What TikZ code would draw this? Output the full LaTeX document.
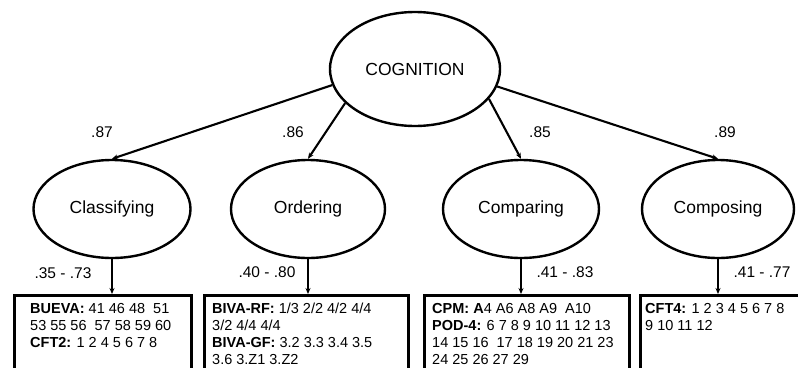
\documentclass[tikz,border=0pt]{standalone}
\usepackage{fontspec}
\setmainfont{Liberation Sans}
\usetikzlibrary{arrows.meta,shapes.geometric}
\begin{document}
\begin{tikzpicture}[x=1pt,y=-1pt,
  latent/.style={ellipse,draw,line width=2.4pt,inner sep=0pt,font=\fontsize{17.5}{20}\selectfont},
  load/.style={font=\fontsize{15.5}{18}\selectfont,inner sep=0pt},
  regpath/.style={line width=2.1pt,-{Stealth[length=6pt,width=5pt]}},
  indbox/.style={draw,line width=2.6pt,anchor=north west,inner sep=0pt,minimum height=90pt},
  items/.style={anchor=north west,align=left,inner sep=0pt,font=\fontsize{14.5}{17}\selectfont}]
\useasboundingbox (0,0) rectangle (798,367);
\clip (0,0) rectangle (798,367);

% second-order factor
\node[latent,minimum width=170pt,minimum height=114pt] (cog) at (415,69) {COGNITION};

% first-order factors
\node[latent,minimum width=157pt,minimum height=98pt] (cls) at (112,209) {Classifying};
\node[latent,minimum width=154pt,minimum height=98pt] (ord) at (308,209) {Ordering};
\node[latent,minimum width=156pt,minimum height=98pt] (cmp) at (521,209) {Comparing};
\node[latent,minimum width=152pt,minimum height=98pt] (cps) at (718,209) {Composing};

% loadings on the second-order factor
\draw[regpath] (cog.191) -- (cls.north);
\draw[regpath] (cog.206) -- (ord.north);
\draw[regpath] (cog.338) -- (cmp.north);
\draw[regpath] (cog.348) -- (cps.north);
\node[load] (l1) at (102,132) {.87};
\node[load] (l2) at (293,132) {.86};
\node[load] (l3) at (540,132) {.85};
\node[load] (l4) at (725,132) {.89};

% indicator boxes
\node[indbox,minimum width=177pt] (b1) at (13,294) {};
\node[indbox,minimum width=204pt] (b2) at (203,294) {};
\node[indbox,minimum width=205pt] (b3) at (423,294) {};
\node[indbox,minimum width=170pt] (b4) at (639,294) {};

\node[items] (t1) at (30,303) {\textbf{BUEVA:} 41 46 48\ \ 51\\53 55 56\ \ 57 58 59 60\\\textbf{CFT2:} 1 2 4 5 6 7 8};
\node[items] (t2) at (212,303) {\textbf{BIVA-RF:} 1/3 2/2 4/2 4/4\\3/2 4/4 4/4\\\textbf{BIVA-GF:} 3.2 3.3 3.4 3.5\\3.6 3.Z1 3.Z2};
\node[items] (t3) at (432,303) {\textbf{CPM: A}4 A6 A8 A9\ \ A10\\\textbf{POD-4:} 6 7 8 9 10 11 12 13\\14 15 16\ \ 17 18 19 20 21 23\\24 25 26 27 29};
\node[items] (t4) at (645,303) {\textbf{CFT4:} 1 2 3 4 5 6 7 8\\9 10 11 12};

% loadings of the indicators
\draw[regpath] (cls.south) -- (cls.south |- b1.north);
\draw[regpath] (ord.south) -- (ord.south |- b2.north);
\draw[regpath] (cmp.south) -- (cmp.south |- b3.north);
\draw[regpath] (cps.south) -- (cps.south |- b4.north);
\node[load] (r1) at (63,273) {.35 - .73};
\node[load] (r2) at (267,272) {.40 - .80};
\node[load] (r3) at (565,272) {.41 - .83};
\node[load] (r4) at (762,272) {.41 - .77};
\end{tikzpicture}
\end{document}
